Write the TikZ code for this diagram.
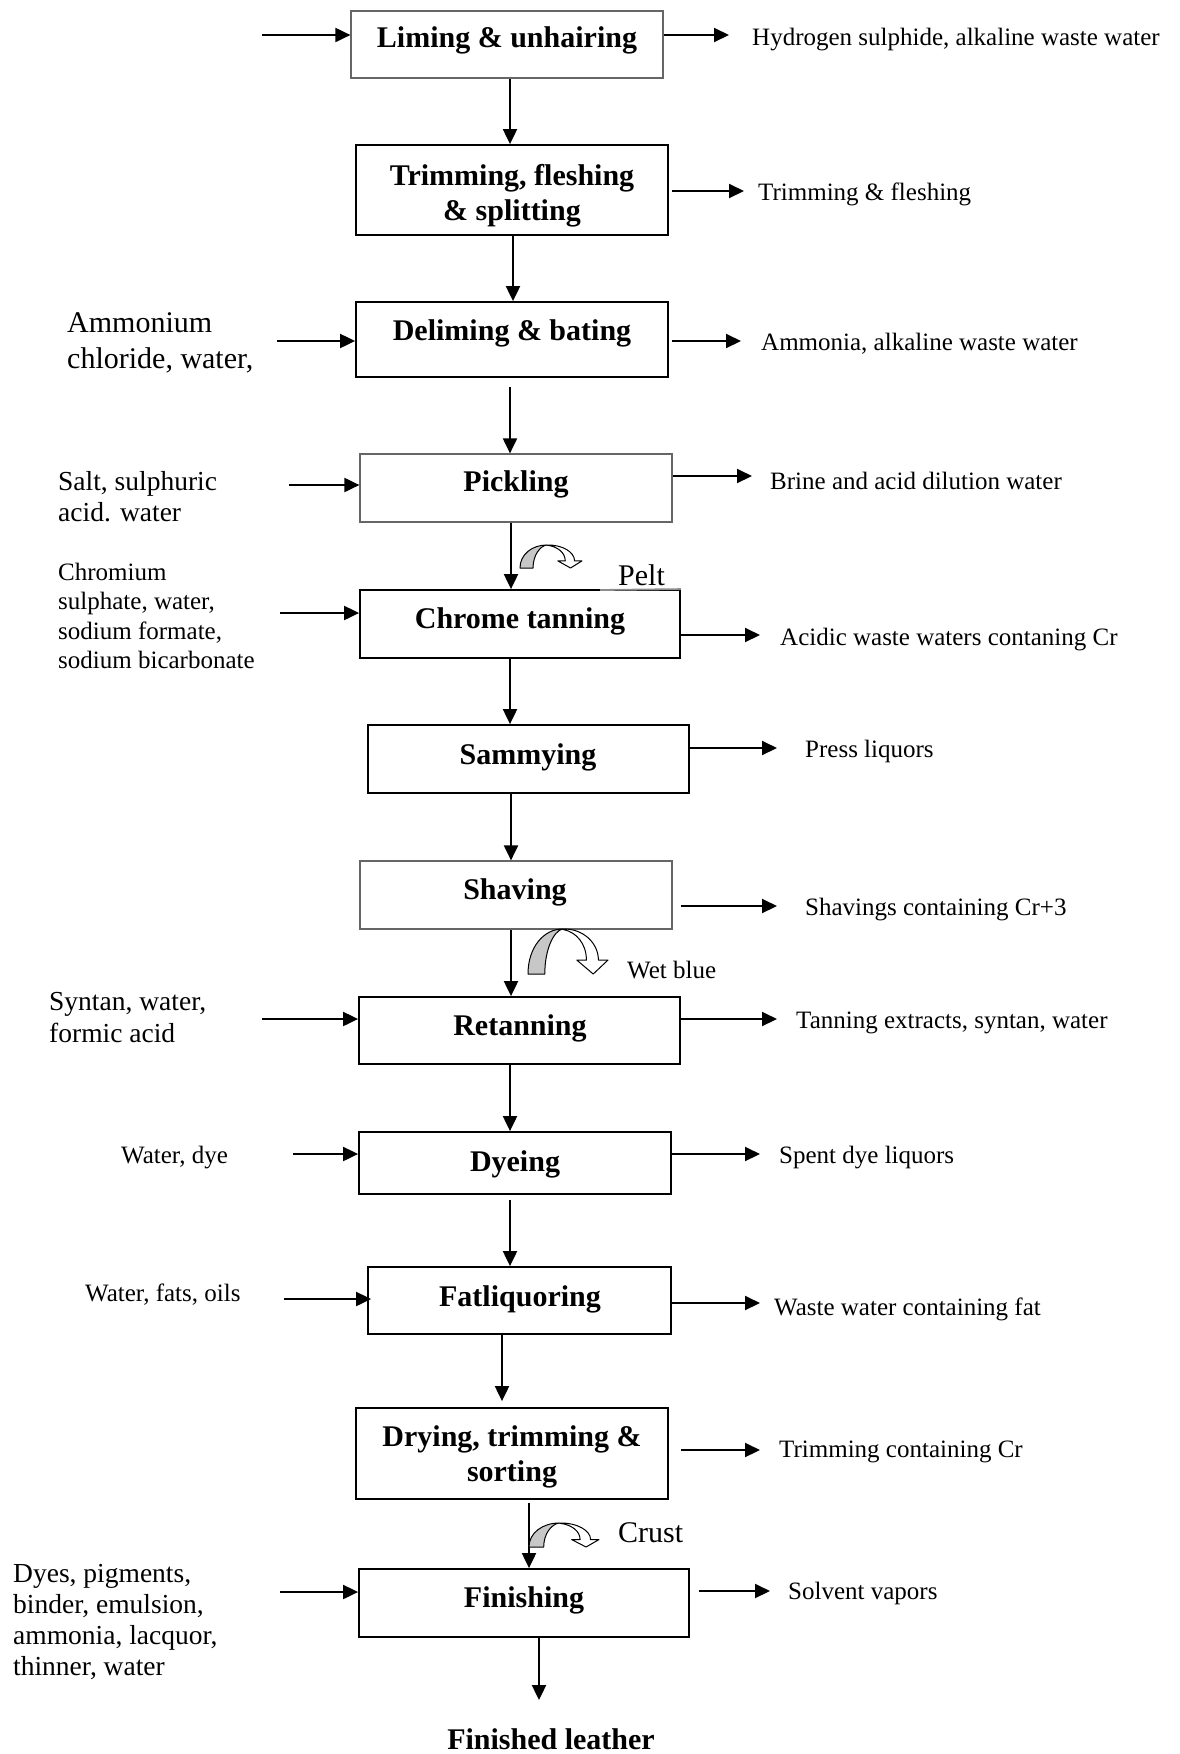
\documentclass[tikz,border=0pt]{standalone}
\usepackage{fontspec}
\setmainfont{Liberation Serif}
\usetikzlibrary{arrows.meta,calc}

\tikzset{
  stage/.style={draw, line width=1.8pt, inner sep=0pt},
  stagelight/.style={draw=black!60, line width=1.2pt, inner sep=0pt},
  lbl/.style={font=\fontsize{30}{35}\selectfont\bfseries, align=center, inner sep=0pt,
              text height=21pt, text depth=6.5pt, yshift=-3.5pt},
  lbltwo/.style={font=\fontsize{30}{35}\selectfont\bfseries, align=center, inner sep=0pt},
  side/.style={font=\fontsize{25}{29.3}\selectfont, align=left, anchor=west, inner sep=0pt, yshift=-3pt},
  sidemid/.style={font=\fontsize{27.5}{31.2}\selectfont, align=left, anchor=west, inner sep=0pt, yshift=-2pt},
  sidebig/.style={font=\fontsize{30}{36}\selectfont, align=left, anchor=west, inner sep=0pt, yshift=-3pt},
  flow/.style={line width=2pt, -{Triangle[length=15pt,width=14pt]}},
  turn/.pic={
    \filldraw[fill=black!22, line width=1pt, line join=round]
      (0,0) .. controls (0,0.6) and (0.2,1) .. (0.43,1)
      .. controls (0.32,0.95) and (0.21,0.55) .. (0.21,0) -- cycle;
    \filldraw[fill=white, line width=1pt, line join=round]
      (0.43,1) .. controls (0.68,1.02) and (0.88,0.7) .. (0.88,0.31)
      -- (1,0.31) -- (0.815,0) -- (0.61,0.31) -- (0.73,0.31)
      .. controls (0.73,0.68) and (0.6,0.93) .. (0.45,0.985) -- cycle;
  }
}

\begin{document}
\begin{tikzpicture}[x=1pt,y=-1pt]
\useasboundingbox (0,0) rectangle (1179,1754);

% process stages
\node[stagelight, minimum width=312pt, minimum height=67pt] (liming)    at (507,44.5)   {};
\node[stage,      minimum width=312pt, minimum height=90pt] (trimming)  at (512,190)    {};
\node[stage,      minimum width=312pt, minimum height=75pt] (deliming)  at (512,339.5)  {};
\node[stagelight, minimum width=312pt, minimum height=68pt] (pickling)  at (516,488)    {};
\node[stage,      minimum width=320pt, minimum height=68pt] (chrome)    at (520,624)    {};
\node[stage,      minimum width=321pt, minimum height=68pt] (sammying)  at (528.5,759)  {};
\node[stagelight, minimum width=312pt, minimum height=68pt] (shaving)   at (516,895)    {};
\node[stage,      minimum width=321pt, minimum height=67pt] (retanning) at (519.5,1030.5) {};
\node[stage,      minimum width=312pt, minimum height=62pt] (dyeing)    at (515,1163)   {};
\node[stage,      minimum width=303pt, minimum height=67pt] (fatliq)    at (519.5,1300.5) {};
\node[stage,      minimum width=312pt, minimum height=91pt] (drying)    at (512,1453.5) {};
\node[stage,      minimum width=330pt, minimum height=68pt] (finishing) at (524,1603)   {};
% lighter stretch of the chrome tanning top edge
\draw[draw=black!45, line width=1.8pt] (600,590) -- (chrome.north east);

% stage names
\node[lbl]    (liming-t)    at (507,37)     {Liming \& unhairing};
\node[lbltwo] (trimming-t)  at (512,196)    {Trimming, fleshing\\\& splitting};
\node[lbl]    (deliming-t)  at (512,330)    {Deliming \& bating};
\node[lbl]    (pickling-t)  at (516,481)    {Pickling};
\node[lbl]    (chrome-t)    at (520,618)    {Chrome tanning};
\node[lbl]    (sammying-t)  at (528,754)    {Sammying};
\node[lbl]    (shaving-t)   at (515,889)    {Shaving};
\node[lbl]    (retanning-t) at (520,1025)   {Retanning};
\node[lbl]    (dyeing-t)    at (515,1161)   {Dyeing};
\node[lbl]    (fatliq-t)    at (520,1296)   {Fatliquoring};
\node[lbltwo] (drying-t)    at (512,1457)   {Drying, trimming \&\\sorting};
\node[lbl]    (finishing-t) at (524,1597)   {Finishing};
\node[lbl]    (product)     at (551,1739)   {Finished leather};

% main line
\coordinate (c1)  at (510,0);
\coordinate (c2)  at (513,0);
\coordinate (c3)  at (510,0);
\coordinate (c4)  at (511,0);
\coordinate (c5)  at (510,0);
\coordinate (c6)  at (511,0);
\coordinate (c7)  at (511,0);
\coordinate (c8)  at (510,0);
\coordinate (c9)  at (510,0);
\coordinate (c10) at (502,0);
\coordinate (c11) at (529,0);
\coordinate (c12) at (539,0);
\draw[flow] (liming.south -| c1) -- (trimming.north -| c1);
\draw[flow] (trimming.south -| c2) -- (deliming.north -| c2);
\draw[flow, shorten <=9pt] (deliming.south -| c3) -- (pickling.north -| c3);
\draw[flow] (pickling.south -| c4) -- (chrome.north -| c4);
\draw[flow] (chrome.south -| c5) -- (sammying.north -| c5);
\draw[flow] (sammying.south -| c6) -- (shaving.north -| c6);
\draw[flow] (shaving.south -| c7) -- (retanning.north -| c7);
\draw[flow] (retanning.south -| c8) -- (dyeing.north -| c8);
\draw[flow, shorten <=5pt] (dyeing.south -| c9) -- (fatliq.north -| c9);
\draw[flow, shorten >=6pt] (fatliq.south -| c10) -- (drying.north -| c10);
\draw[flow, shorten <=3pt] (drying.south -| c11) -- (finishing.north -| c11);
\draw[flow, shorten >=28.5pt] (finishing.south -| c12) -- (product.north -| c12);

% intermediate products
\pic[xscale=62, yscale=-23] at (520,568)  {turn};
\pic[xscale=80, yscale=-45] at (528,974)  {turn};
\pic[xscale=70, yscale=-24] at (529,1547) {turn};
\node[sidebig] (pelt)    at (618,572)  {Pelt};
\node[side]    (wetblue) at (627,967)  {Wet blue};
\node[sidebig] (crust)   at (618,1530) {Crust};

% inputs
\coordinate (in-lim) at (262,35);
\coordinate (in-del) at (277,341);
\coordinate (in-pic) at (289,485);
\coordinate (in-chr) at (280,613);
\coordinate (in-ret) at (262,1019);
\coordinate (in-dye) at (293,1154);
\coordinate (in-fat) at (284,1299);
\coordinate (in-fin) at (280,1592);
\draw[flow] (in-lim) -- (in-lim -| liming.west);
\draw[flow] (in-del) -- (in-del -| deliming.west);
\draw[flow] (in-pic) -- (in-pic -| pickling.west);
\draw[flow] (in-chr) -- (in-chr -| chrome.west);
\draw[flow] (in-ret) -- (in-ret -| retanning.west);
\draw[flow] (in-dye) -- (in-dye -| dyeing.west);
\draw[flow, shorten >=-4pt] (in-fat) -- (in-fat -| fatliq.west);
\draw[flow] (in-fin) -- (in-fin -| finishing.west);

\node[sidebig] (in-del-t) at (67,340)   {Ammonium\\chloride, water,};
\node[sidemid] (in-pic-t) at (58,494.5) {Salt, sulphuric\\acid. water};
\node[side]    (in-chr-t) at (58,613)   {Chromium\\sulphate, water,\\sodium formate,\\sodium bicarbonate};
\node[sidemid] (in-ret-t) at (49,1015.5){Syntan, water,\\formic acid};
\node[side]    (in-dye-t) at (121,1155) {Water, dye};
\node[side]    (in-fat-t) at (85,1292)  {Water, fats, oils};
\node[sidemid] (in-fin-t) at (13,1620)  {Dyes, pigments,\\binder, emulsion,\\ammonia, lacquor,\\thinner, water};

% outputs
\coordinate (out-lim) at (729,35);
\coordinate (out-tri) at (744,191);
\coordinate (out-del) at (741,341);
\coordinate (out-pic) at (752,476);
\coordinate (out-chr) at (760,635);
\coordinate (out-sam) at (777,748);
\coordinate (out-sha) at (777,906);
\coordinate (out-ret) at (777,1019);
\coordinate (out-dye) at (760,1154);
\coordinate (out-fat) at (760,1303);
\coordinate (out-dry) at (760,1450);
\coordinate (out-fin) at (770,1591);
\draw[flow] (out-lim -| liming.east) -- (out-lim);
\draw[flow] ($(out-tri -| trimming.east)+(3,0)$) -- (out-tri);
\draw[flow] ($(out-del -| deliming.east)+(3,0)$) -- (out-del);
\draw[flow] (out-pic -| pickling.east) -- (out-pic);
\draw[flow] (out-chr -| chrome.east) -- (out-chr);
\draw[flow] (out-sam -| sammying.east) -- (out-sam);
\draw[flow] ($(out-sha -| shaving.east)+(8,0)$) -- (out-sha);
\draw[flow] (out-ret -| retanning.east) -- (out-ret);
\draw[flow] (out-dye -| dyeing.east) -- (out-dye);
\draw[flow] (out-fat -| fatliq.east) -- (out-fat);
\draw[flow] ($(out-dry -| drying.east)+(12,0)$) -- (out-dry);
\draw[flow] ($(out-fin -| finishing.east)+(9,0)$) -- (out-fin);

\node[side] (out-lim-t) at (752,37)   {Hydrogen sulphide, alkaline waste water};
\node[side] (out-tri-t) at (758,191)  {Trimming \& fleshing};
\node[side] (out-del-t) at (761,341)  {Ammonia, alkaline waste water};
\node[side] (out-pic-t) at (770,478)  {Brine and acid dilution water};
\node[side] (out-chr-t) at (780,637)  {Acidic waste waters contaning Cr};
\node[side] (out-sam-t) at (805,748)  {Press liquors};
\node[side] (out-sha-t) at (805,907)  {Shavings containing Cr+3};
\node[side] (out-ret-t) at (796,1020) {Tanning extracts, syntan, water};
\node[side] (out-dye-t) at (779,1155) {Spent dye liquors};
\node[side] (out-fat-t) at (774,1306) {Waste water containing fat};
\node[side] (out-dry-t) at (779,1449) {Trimming containing Cr};
\node[side] (out-fin-t) at (788,1590) {Solvent vapors};
\end{tikzpicture}
\end{document}
